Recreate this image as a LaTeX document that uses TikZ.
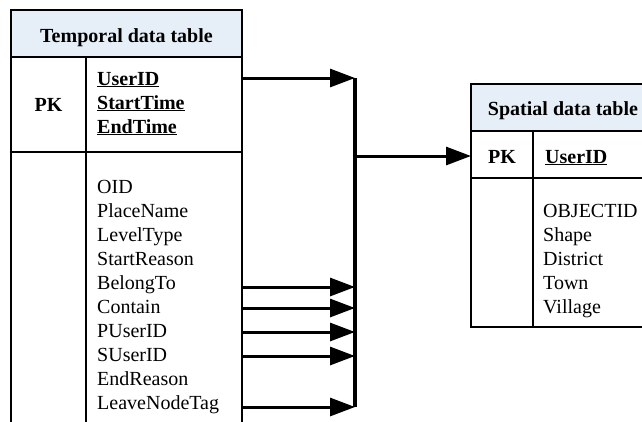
\documentclass[tikz,border=0pt]{standalone}
\usepackage{fontspec}
\setmainfont{Liberation Serif}
\usetikzlibrary{arrows.meta}
\definecolor{hdr}{RGB}{230,238,248}
\begin{document}
\begin{tikzpicture}[x=1bp,y=-1bp,
  tbl/.style={line width=1.9bp},
  fld/.style={anchor=base west, inner sep=0, font=\fontsize{20bp}{24bp}\selectfont},
  bld/.style={anchor=base, inner sep=0, font=\fontsize{20bp}{24bp}\selectfont\bfseries},
  key/.style={anchor=base west, inner sep=0, font=\fontsize{20bp}{24bp}\selectfont\bfseries},
  conn/.style={line width=3bp, -{Triangle[length=25bp,width=18bp]}},
  bar/.style={line width=3.4bp},
]
\useasboundingbox (0,0) rectangle (642,421);
\clip (0,0) rectangle (642,421);
% ---------- Temporal data table ----------
\fill[hdr] (11,10) rectangle (242,57);
\draw[tbl] (11,430) -- (11,10) -- (242,10) -- (242,430);
\draw[tbl] (11,57) -- (242,57);
\draw[tbl] (11,152) -- (242,152);
\draw[tbl] (86,57) -- (86,430);
\node[bld] (ttitle) at (126.5,42) {Temporal data table};
\node[bld] (tpk) at (48.5,111) {PK};
\node[key] (tk1) at (97,85) {\underline{UserID}};
\node[key] (tk2) at (97,109) {\underline{StartTime}};
\node[key] (tk3) at (97,133) {\underline{EndTime}};
\node[fld] (f1) at (97,193) {OID};
\node[fld] (f2) at (97,217) {PlaceName};
\node[fld] (f3) at (97,241) {LevelType};
\node[fld] (f4) at (97,265) {StartReason};
\node[fld] (f5) at (97,289) {BelongTo};
\node[fld] (f6) at (97,313) {Contain};
\node[fld] (f7) at (97,337) {PUserID};
\node[fld] (f8) at (97,361) {SUserID};
\node[fld] (f9) at (97,385) {EndReason};
\node[fld] (f10) at (97,409) {LeaveNodeTag};
% ---------- Spatial data table ----------
\fill[hdr] (471,84) rectangle (660,131);
\draw[tbl] (660,84) -- (471,84) -- (471,327) -- (660,327);
\draw[tbl] (471,131) -- (660,131);
\draw[tbl] (471,178) -- (660,178);
\draw[tbl] (533,131) -- (533,327);
\node[bld] (stitle) at (563,115) {Spatial data table};
\node[bld] (spk) at (502,163) {PK};
\node[key] (sk1) at (545,163) {\underline{UserID}};
\node[fld] (g1) at (543,217) {OBJECTID};
\node[fld] (g2) at (543,241) {Shape};
\node[fld] (g3) at (543,265) {District};
\node[fld] (g4) at (543,289) {Town};
\node[fld] (g5) at (543,313) {Village};
% ---------- connectors ----------
\coordinate (sk) at (242,78);
\coordinate (s5) at (242,287);
\coordinate (s6) at (242,308);
\coordinate (s7) at (242,332);
\coordinate (s8) at (242,356);
\coordinate (s10) at (242,407);
\coordinate (bk) at (355,78);
\coordinate (b5) at (355,287);
\coordinate (b6) at (355,308);
\coordinate (b7) at (355,332);
\coordinate (b8) at (355,356);
\coordinate (b10) at (355,407);
\coordinate (bm) at (355,156);
\coordinate (sin) at (471,156);
\draw[bar] (bk) -- (b10);
\draw[conn] (sk) -- (bk);
\draw[conn] (s5) -- (b5);
\draw[conn] (s6) -- (b6);
\draw[conn] (s7) -- (b7);
\draw[conn] (s8) -- (b8);
\draw[conn] (s10) -- (b10);
\draw[conn] (bm) -- (sin);
\end{tikzpicture}
\end{document}
